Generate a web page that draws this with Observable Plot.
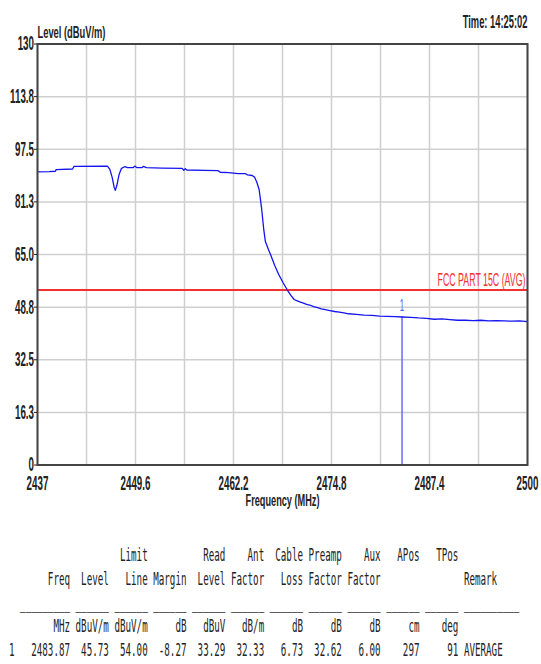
<!DOCTYPE html>
<html><head><meta charset="utf-8">
<script src="https://cdn.jsdelivr.net/npm/d3@7"></script>
<script src="https://cdn.jsdelivr.net/npm/@observablehq/plot@0.6"></script>
<style>
html,body{margin:0;padding:0;background:#fff;}
#chart{position:absolute;left:0;top:0;}
#table{position:absolute;left:8.9px;top:544px;margin:0;font-family:"DejaVu Sans Mono",monospace;font-size:17px;line-height:23.75px;color:#222;transform:scaleX(0.542);transform-origin:0 0;white-space:pre;}
</style></head><body>
<div id="chart"></div>
<pre id="table"></pre>
<script>
// ---- trace data (MHz, dBuV/m) ----
const traceFreq = [2437.0,2438.5,2439.3,2439.4,2441.5,2441.7,2446.0,2446.3,2446.6,2446.85,2447.0,2447.2,2447.5,2447.8,2448.2,2448.6,2449.3,2449.5,2449.8,2450.4,2450.6,2451.0,2453.0,2455.6,2455.8,2456.0,2456.2,2458.5,2460.2,2460.5,2461.6,2462.8,2463.7,2464.0,2464.6,2464.9,2465.2,2465.5,2465.8,2466.1,2466.3,2466.7,2467.0,2467.5,2468.0,2468.6,2469.1,2469.6,2470.0,2470.4,2470.8,2471.2,2471.6,2472.0,2472.5,2473.0,2473.5,2474.0,2474.6,2475.2,2475.8,2476.4,2477.0,2478.0,2479.0,2480.0,2481.0,2482.0,2483.0,2483.87,2485.0,2486.0,2487.0,2488.0,2489.0,2490.0,2491.0,2492.0,2493.0,2494.0,2495.0,2496.0,2497.0,2498.0,2499.0,2500.0];
const traceLevel = [90.5,90.6,90.7,91.2,91.4,92.2,92.3,91.3,88.8,85.8,84.8,86.3,89.8,91.6,92.1,91.8,91.8,92.3,91.8,91.8,92.2,91.8,91.7,91.6,91.0,91.5,91.1,91.0,90.9,90.4,90.3,90.0,90.0,89.6,89.4,88.9,87.3,85.0,79.5,72.5,69.0,66.5,64.8,61.6,58.9,56.2,54.1,52.3,51.1,50.7,50.3,50.0,49.6,49.4,48.9,48.6,48.2,48.0,47.7,47.4,47.2,47.0,46.7,46.5,46.3,46.2,46.0,45.9,45.8,45.7,45.6,45.4,45.3,45.0,45.1,44.9,44.7,44.7,44.6,44.7,44.5,44.6,44.5,44.4,44.5,44.3];

// ---- axes ----
const xTickValues = [2437, 2449.6, 2462.2, 2474.8, 2487.4, 2500];
const xTickLabels = ["2437", "2449.6", "2462.2", "2474.8", "2487.4", "2500"];
const xGridValues = [2437, 2443.3, 2449.6, 2455.9, 2462.2, 2468.5, 2474.8, 2481.1, 2487.4, 2493.7, 2500];
const yTickValues = [0, 16.25, 32.5, 48.75, 65, 81.25, 97.5, 113.75, 130];
const yTickLabels = ["0", "16.3", "32.5", "48.8", "65.0", "81.3", "97.5", "113.8", "130"];

// ---- limit & marker ----
const limitLevel = [54];
const limitLabel = "FCC PART 15C (AVG)";
const markerFreq = [2483.87];
const markerLevel = [45.73];
const markerLabel = ["1"];

// ---- texts ----
const yTitle = "Level (dBuV/m)";
const xTitle = "Frequency (MHz)";
const timeText = "Time: 14:25:02";

// ---- result table ----
const head1 = ["", "", "Limit", "", "Read", "Ant", "Cable", "Preamp", "Aux", "APos", "TPos", ""];
const head2 = ["Freq", "Level", "Line", "Margin", "Level", "Factor", "Loss", "Factor", "Factor", "", "", "Remark"];
const units = ["MHz", "dBuV/m", "dBuV/m", "dB", "dBuV", "dB/m", "dB", "dB", "dB", "cm", "deg", ""];
const row1 = ["2483.87", "45.73", "54.00", "-8.27", "33.29", "32.33", "6.73", "32.62", "6.00", "297", "91", "AVERAGE"];
const rowIndex = "1";

const trace = traceFreq.map((f, i) => ({f, l: traceLevel[i]}));
const yLabelMap = new Map(yTickValues.map((v, i) => [v, yTickLabels[i]]));
const xLabelMap = new Map(xTickValues.map((v, i) => [v, xTickLabels[i]]));
const markers = markerFreq.map((f, i) => ({f, l: markerLevel[i], t: markerLabel[i]}));

const plot = Plot.plot({
  width: 541, height: 520,
  marginLeft: 37, marginRight: 14, marginTop: 43.5, marginBottom: 55.5,
  style: {background: "#fff", fontFamily: "'Liberation Sans', Arial, sans-serif", color: "#222"},
  x: {domain: [2437, 2500]},
  y: {domain: [0, 130]},
  marks: [
    Plot.ruleX(xGridValues, {stroke: "#cfcfcf", strokeWidth: 1.5}),
    Plot.ruleY(yTickValues, {stroke: "#cfcfcf", strokeWidth: 1.5}),
    Plot.ruleY(limitLevel, {stroke: "#f23030", strokeWidth: 2}),
    Plot.ruleX(markers, {x: "f", y1: 0, y2: "l", stroke: "#6a6aff", strokeWidth: 1.5}),
    Plot.line(trace, {x: "f", y: "l", stroke: "#1414f0", strokeWidth: 1.3}),
    Plot.frame({stroke: "#444", strokeWidth: 2}),
    Plot.axisY({ticks: yTickValues, tickFormat: d => yLabelMap.get(d), tickSize: 3, tickPadding: 0.5, label: null}),
    Plot.axisX({ticks: xTickValues, tickFormat: d => xLabelMap.get(d), tickSize: 0, tickPadding: 10.5, label: null}),
    Plot.text(limitLevel, {y: d => d, text: () => limitLabel, frameAnchor: "right", textAnchor: "end", lineAnchor: "bottom", dx: -2, dy: -4.5, fill: "#f23030", fontSize: 18}),
    Plot.text(markers, {x: "f", y: "l", text: "t", dy: -11, fill: "#5a5aff", fontSize: 16}),
    Plot.text([yTitle], {text: d => d, frameAnchor: "top-left", textAnchor: "start", lineAnchor: "bottom", dy: -6.5, fontSize: 17, fontWeight: "bold", fill: "#222"}),
    Plot.text([timeText], {text: d => d, frameAnchor: "top-right", textAnchor: "end", lineAnchor: "bottom", dy: -16.5, fontSize: 18, fontWeight: "bold", fill: "#222"}),
    Plot.text([xTitle], {text: d => d, frameAnchor: "bottom", lineAnchor: "bottom", dy: 40.5, fontSize: 17, fontWeight: "bold", fill: "#222"})
  ]
});

const svg = d3.select(plot);
svg.selectAll('g[aria-label="y-axis tick label"], g[aria-label="x-axis tick label"]')
  .attr("font-size", 20).attr("font-weight", "bold").attr("fill", "#222");
const scaleFor = new Map([[limitLabel, 0.49], [yTitle, 0.55], [timeText, 0.52], [xTitle, 0.54]]);
svg.selectAll("text").each(function() {
  const t = d3.select(this);
  const tr = t.attr("transform") || "";
  const sx = scaleFor.get(t.text()) ?? 0.49;
  t.attr("transform", `${tr} scale(${sx},1)`);
});
document.getElementById("chart").appendChild(plot);

// table
function fmtLine(prefix, cells) {
  let s = prefix.padEnd(2, " ");
  s += cells[0].padStart(9, " ");
  for (let i = 1; i <= 10; i++) s += " " + cells[i].padStart(6, " ");
  s += " " + cells[11];
  return s.replace(/\s+$/, "");
}
const under = "  " + "_".repeat(9) + (" " + "_".repeat(6)).repeat(10) + " " + "_".repeat(10);
document.getElementById("table").textContent = [
  fmtLine("", head1), fmtLine("", head2), under, fmtLine("", units), fmtLine(rowIndex, row1)
].join("\n");
</script>
</body></html>
